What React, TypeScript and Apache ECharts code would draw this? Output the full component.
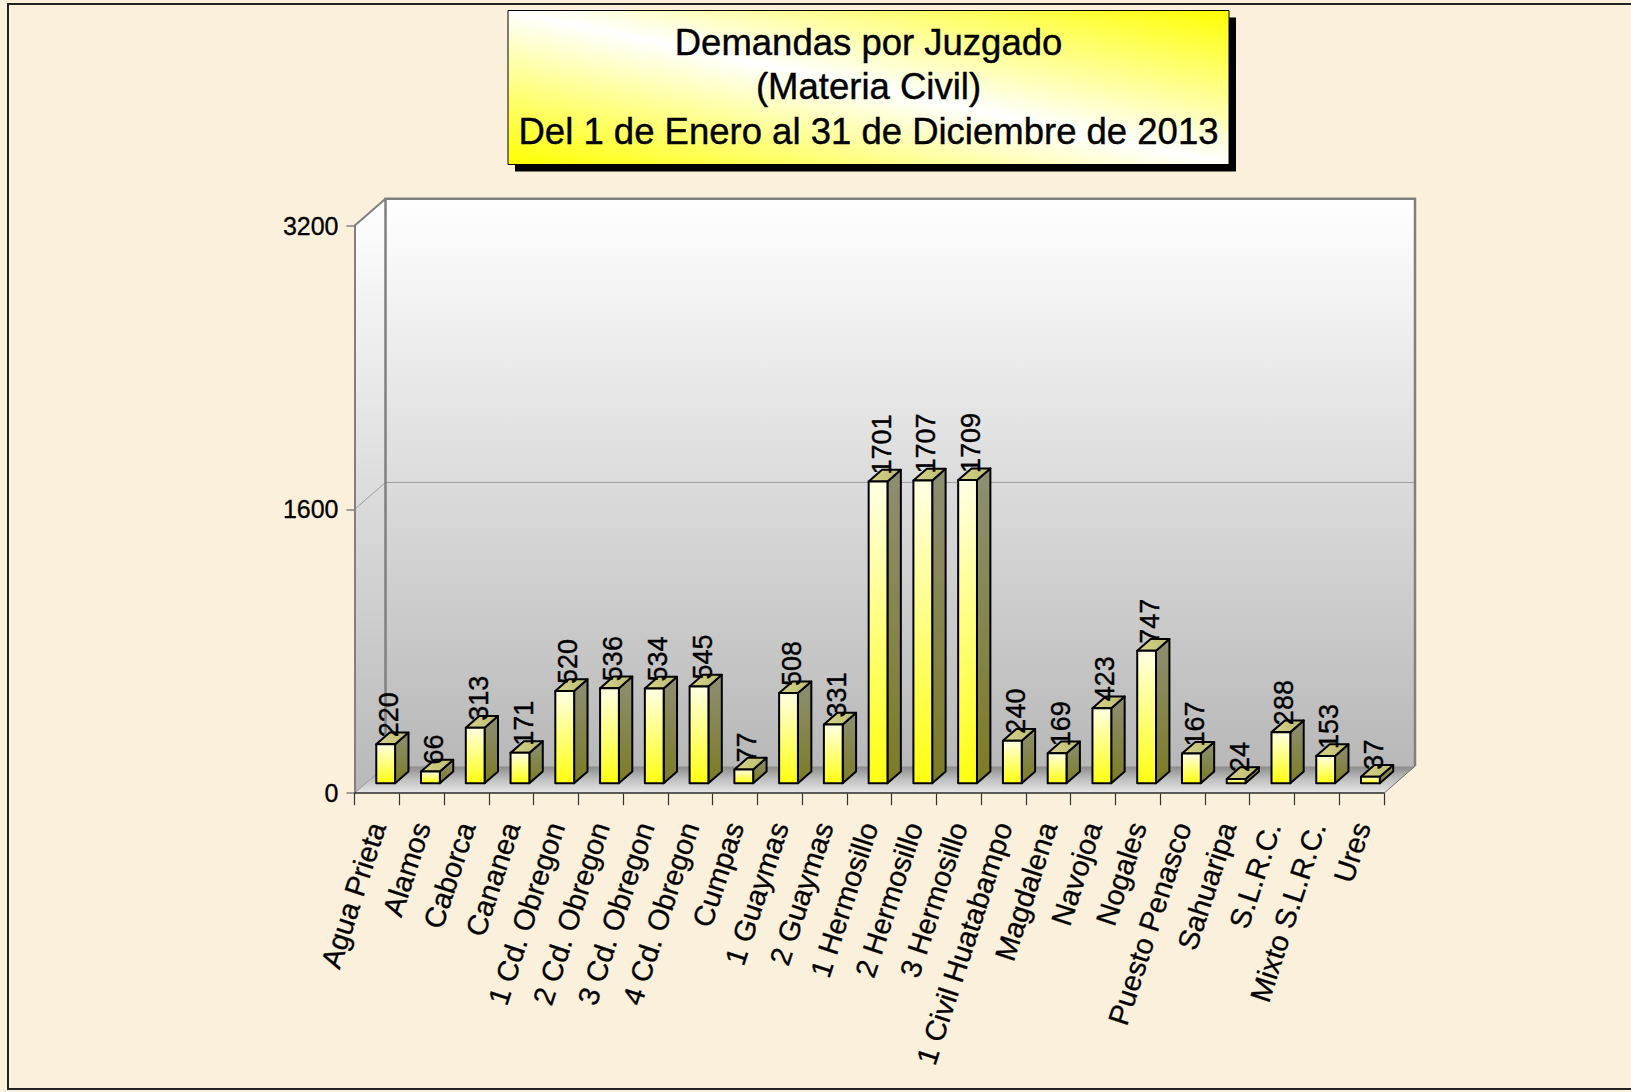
import React, { useEffect, useRef } from "react";
import * as echarts from "echarts";

const categories = [
  "Agua Prieta", "Alamos", "Caborca", "Cananea", "1 Cd. Obregon", "2 Cd. Obregon",
  "3 Cd. Obregon", "4 Cd. Obregon", "Cumpas", "1 Guaymas", "2 Guaymas", "1 Hermosillo",
  "2 Hermosillo", "3 Hermosillo", "1 Civil Huatabampo", "Magdalena", "Navojoa", "Nogales",
  "Puesto Penasco", "Sahuaripa", "S.L.R.C.", "Mixto S.L.R.C.", "Ures",
];
const values = [220, 66, 313, 171, 520, 536, 534, 545, 77, 508, 331, 1701, 1707, 1709, 240, 169, 423, 747, 167, 24, 288, 153, 37];
const yMin = 0;
const yMax = 3200;
const yInterval = 1600;
const titleLines = ["Demandas por Juzgado", "(Materia Civil)", "Del 1 de Enero al 31 de Diciembre de 2013"];

const FONT = "'Liberation Sans', Arial, Helvetica, sans-serif";
const DX = 31;
const DY = -27;

export default function App() {
  const ref = useRef<HTMLDivElement>(null);
  useEffect(() => {
    if (!ref.current) return;
    const chart = echarts.init(ref.current, null, { renderer: "svg" });

    const wallRender = (params: any, api: any) => {
      const cs = params.coordSys;
      const x0 = cs.x, x1 = cs.x + cs.width;
      const yTop = cs.y, yBot = cs.y + cs.height;
      const yMid = api.coord([0, yInterval])[1];
      const wallGrad = new echarts.graphic.LinearGradient(0, 0, 0, 1, [
        { offset: 0, color: "#ffffff" },
        { offset: 1, color: "#b8b8b8" },
      ]);
      const floorGrad = new echarts.graphic.LinearGradient(0, 0, 0, 1, [
        { offset: 0, color: "#8a8a8a" },
        { offset: 0.45, color: "#bcbcbc" },
        { offset: 1, color: "#e8e8e8" },
      ]);
      return {
        type: "group",
        children: [
          {
            type: "polygon",
            shape: { points: [[x0, yTop], [x0 + DX, yTop + DY], [x0 + DX, yBot + DY], [x0, yBot]] },
            style: { fill: wallGrad },
          },
          {
            type: "rect",
            shape: { x: x0 + DX, y: yTop + DY, width: cs.width, height: cs.height },
            style: { fill: wallGrad },
          },
          {
            type: "polygon",
            shape: { points: [[x0, yBot], [x1, yBot], [x1 + DX, yBot + DY], [x0 + DX, yBot + DY]] },
            style: { fill: floorGrad },
          },
          {
            type: "polyline",
            shape: { points: [[x0, yMid], [x0 + DX, yMid + DY], [x1 + DX, yMid + DY]] },
            style: { stroke: "#9c9c9c", lineWidth: 1, fill: "none" },
          },
          {
            type: "polyline",
            shape: { points: [[x0 + DX, yBot + DY], [x0 + DX, yTop + DY], [x1 + DX, yTop + DY], [x1 + DX, yBot + DY]] },
            style: { stroke: "#808080", lineWidth: 2.5, fill: "none" },
          },
          {
            type: "line",
            shape: { x1: x0, y1: yTop, x2: x0 + DX, y2: yTop + DY },
            style: { stroke: "#808080", lineWidth: 2 },
          },
          {
            type: "line",
            shape: { x1: x0, y1: yBot, x2: x0 + DX, y2: yBot + DY },
            style: { stroke: "#9a9a9a", lineWidth: 1 },
          },
          {
            type: "line",
            shape: { x1: x1, y1: yBot, x2: x1 + DX, y2: yBot + DY },
            style: { stroke: "#6e6e6e", lineWidth: 1 },
          },
        ],
      };
    };

    const barRender = (params: any, api: any) => {
      const i = api.value(0);
      const v = api.value(1);
      const base = api.coord([i, 0]);
      const top = api.coord([i, v]);
      const w = 18.8;
      const left = base[0] - 0.6;
      const bY = base[1] - 10;
      const tY = top[1] - 10;
      const ddx = 13.4, ddy = -11.7;
      const frontGrad = new echarts.graphic.LinearGradient(0, 0, 0, 1, [
        { offset: 0, color: "#ffffe4" },
        { offset: 1, color: "#ffff10" },
      ]);
      const sideGrad = new echarts.graphic.LinearGradient(0, 0, 0, 1, [
        { offset: 0, color: "#8e8e74" },
        { offset: 1, color: "#7c7c24" },
      ]);
      const topGrad = new echarts.graphic.LinearGradient(0, 0, 1, 0, [
        { offset: 0, color: "#d6d48c" },
        { offset: 1, color: "#bdbb6e" },
      ]);
      const stroke = { stroke: "#000", lineWidth: 2, lineJoin: "round" };
      return {
        type: "group",
        children: [
          {
            type: "polygon",
            shape: { points: [[left + w, tY], [left + w + ddx, tY + ddy], [left + w + ddx, bY + ddy], [left + w, bY]] },
            style: { fill: sideGrad, ...stroke },
          },
          {
            type: "polygon",
            shape: { points: [[left, tY], [left + ddx, tY + ddy], [left + w + ddx, tY + ddy], [left + w, tY]] },
            style: { fill: topGrad, ...stroke },
          },
          {
            type: "rect",
            shape: { x: left, y: tY, width: w, height: Math.max(bY - tY, 0.5) },
            style: { fill: frontGrad, ...stroke },
          },
          {
            type: "text",
            x: left + 13,
            y: tY - 7,
            rotation: Math.PI / 2,
            z2: 20,
            style: {
              text: String(v),
              fontSize: 27,
              fontFamily: FONT,
              fill: "#000",
              stroke: "#000",
              lineWidth: 0.4,
              align: "left",
              verticalAlign: "middle",
            },
          },
        ],
      };
    };

    const titleX = 508, titleY = 10.5, titleW = 721, titleH = 154;

    chart.setOption({
      animation: false,
      backgroundColor: "#fbf0dc",
      grid: { left: 354.5, right: 247, top: 225.7, bottom: 298.8, outerBoundsMode: "none", containLabel: false },
      xAxis: {
        type: "category",
        data: categories,
        z: 5,
        axisLine: { show: true, lineStyle: { color: "#2a2a2a", width: 1.5 } },
        axisTick: { show: true, length: 12, lineStyle: { color: "#333", width: 1.2 } },
        axisLabel: {
          rotate: 72, interval: 0, margin: 30, fontSize: 29, color: "#000", fontFamily: FONT,
          textBorderColor: "#000", textBorderWidth: 0.3,
        },
        splitLine: { show: false },
      },
      yAxis: {
        type: "value",
        min: yMin,
        max: yMax,
        interval: yInterval,
        z: 5,
        axisLine: { show: true, lineStyle: { color: "#808080", width: 2 } },
        axisTick: { show: true, length: 8, lineStyle: { color: "#808080", width: 1.5 } },
        axisLabel: {
          fontSize: 25, margin: 16, color: "#000", fontFamily: FONT,
          textBorderColor: "#000", textBorderWidth: 0.3,
          formatter: (v: number) => String(v),
        },
        splitLine: { show: false },
      },
      graphic: [
        {
          type: "rect",
          z: -10,
          shape: { x: 8, y: 4, width: 1640, height: 1085 },
          style: { fill: "none", stroke: "#222", lineWidth: 2 },
          silent: true,
        },
        {
          type: "group",
          z: 100,
          children: [
            {
              type: "rect",
              shape: { x: titleX + 7, y: titleY + 7, width: titleW, height: titleH },
              style: { fill: "#000" },
            },
            {
              type: "rect",
              shape: { x: titleX, y: titleY, width: titleW, height: titleH },
              style: {
                fill: new echarts.graphic.LinearGradient(0, 1, 1, 0, [
                  { offset: 0, color: "#ffff00" },
                  { offset: 0.5, color: "#ffffff" },
                  { offset: 1, color: "#ffff00" },
                ]),
                stroke: "#000",
                lineWidth: 1,
              },
            },
            ...titleLines.map((t, k) => ({
              type: "text",
              x: titleX + titleW / 2,
              y: 42 + k * 44.7,
              style: {
                text: t,
                fontSize: 36.5,
                fontFamily: FONT,
                fill: "#000",
                stroke: "#000",
                lineWidth: 0.4,
                align: "center",
                verticalAlign: "middle",
              },
            })),
          ],
        },
      ],
      series: [
        {
          type: "custom",
          z: 1,
          silent: true,
          data: [[0, 0]],
          encode: { x: 0, y: 1 },
          renderItem: wallRender,
        },
        {
          type: "custom",
          z: 10,
          data: values.map((v, i) => [i, v]),
          encode: { x: 0, y: 1 },
          renderItem: barRender,
        },
      ],
    });
    return () => chart.dispose();
  }, []);
  return <div ref={ref} style={{ position: "fixed", left: 0, top: 0, width: 1631, height: 1092 }} />;
}
